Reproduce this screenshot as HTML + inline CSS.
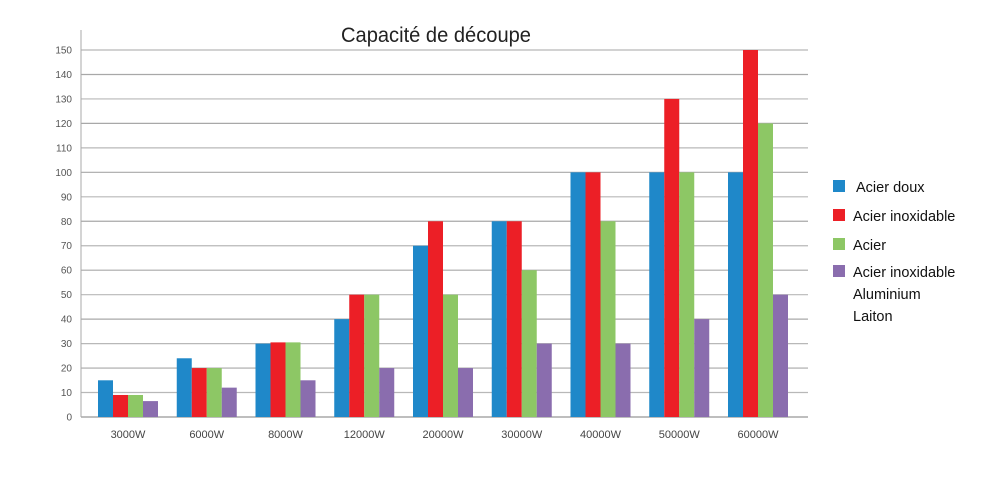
<!DOCTYPE html>
<html><head><meta charset="utf-8"><style>
body{margin:0;background:#fff;}
svg{display:block;font-family:"Liberation Sans",sans-serif;}
</style></head><body>
<svg id="chart" width="982" height="490" viewBox="0 0 982 490">
<text x="436" y="42" text-anchor="middle" font-size="21" fill="#222" textLength="190" lengthAdjust="spacingAndGlyphs">Capacité de découpe</text>
<g id="grid"></g><g id="bars"></g><g id="xlabels"></g>
<g font-size="14.5" fill="#111">
<rect x="833" y="180" width="12" height="12" fill="#1f88c9"/>
<text x="856" y="192">Acier doux</text>
<rect x="833" y="209" width="12" height="12" fill="#ec1f26"/>
<text x="853" y="221">Acier inoxidable</text>
<rect x="833" y="238" width="12" height="12" fill="#8dc765"/>
<text x="853" y="250">Acier</text>
<rect x="833" y="265" width="12" height="12" fill="#8a6dae"/>
<text x="853" y="277"><tspan x="853">Acier inoxidable</tspan><tspan x="853" dy="22">Aluminium</tspan><tspan x="853" dy="22">Laiton</tspan></text>
</g>
</svg>
<script>
const categories=["3000W","6000W","8000W","12000W","20000W","30000W","40000W","50000W","60000W"];
const acierDoux=[15,24,30,40,70,80,100,100,100];
const acierInox=[9,20,30.5,50,80,80,100,130,150];
const acier=[9,20,30.5,50,50,60,80,100,120];
const inoxAluLaiton=[6.5,12,15,20,20,30,30,40,50];
const yTicks=[0,10,20,30,40,50,60,70,80,90,100,110,120,130,140,150];
const NS="http://www.w3.org/2000/svg";
const x0=81,x1=808,y0=417,yTop=50,vmax=150;
const y=v=>y0-(v/vmax)*(y0-yTop);
const groupW=78.75,firstGroup=88,barW=15;
const gx=i=>firstGroup+i*groupW;
function mk(tag,attrs,parent){const e=document.createElementNS(NS,tag);for(const k in attrs)e.setAttribute(k,attrs[k]);parent.appendChild(e);return e;}
const grid=document.getElementById('grid'),bars=document.getElementById('bars'),xl=document.getElementById('xlabels');
yTicks.forEach(t=>{
  const l=mk('line',{x1:x0,x2:x1,y1:y(t),y2:y(t),stroke:t%20===10?'#b8b8b8':'#a8a8a8','stroke-width':t===0?1.5:1.2},grid);
  
  
  const tx=mk('text',{x:72,y:y(t)+3.5,'text-anchor':'end','font-size':10,fill:'#555'},grid);
  tx.textContent=t;
  
  
});
const ax=mk('line',{x1:x0,x2:x0,y1:30,y2:y0,stroke:'#aaa','stroke-width':1},grid);


const series=[[acierDoux,'#1f88c9','acier-doux'],[acierInox,'#ec1f26','acier-inoxidable'],[acier,'#8dc765','acier'],[inoxAluLaiton,'#8a6dae','inox-alu-laiton']];
categories.forEach((c,i)=>{
  series.forEach((s,j)=>{
    const v=s[0][i];
    const r=mk('rect',{x:gx(i)+10+j*barW,y:y(v),width:barW,height:y0-y(v),fill:s[1]},bars);
    
    
  });
  const t=mk('text',{x:gx(i)+10+2*barW,y:438,'text-anchor':'middle','font-size':11,fill:'#444'},xl);
  t.textContent=c;
  
  
});
</script>
</body></html>
